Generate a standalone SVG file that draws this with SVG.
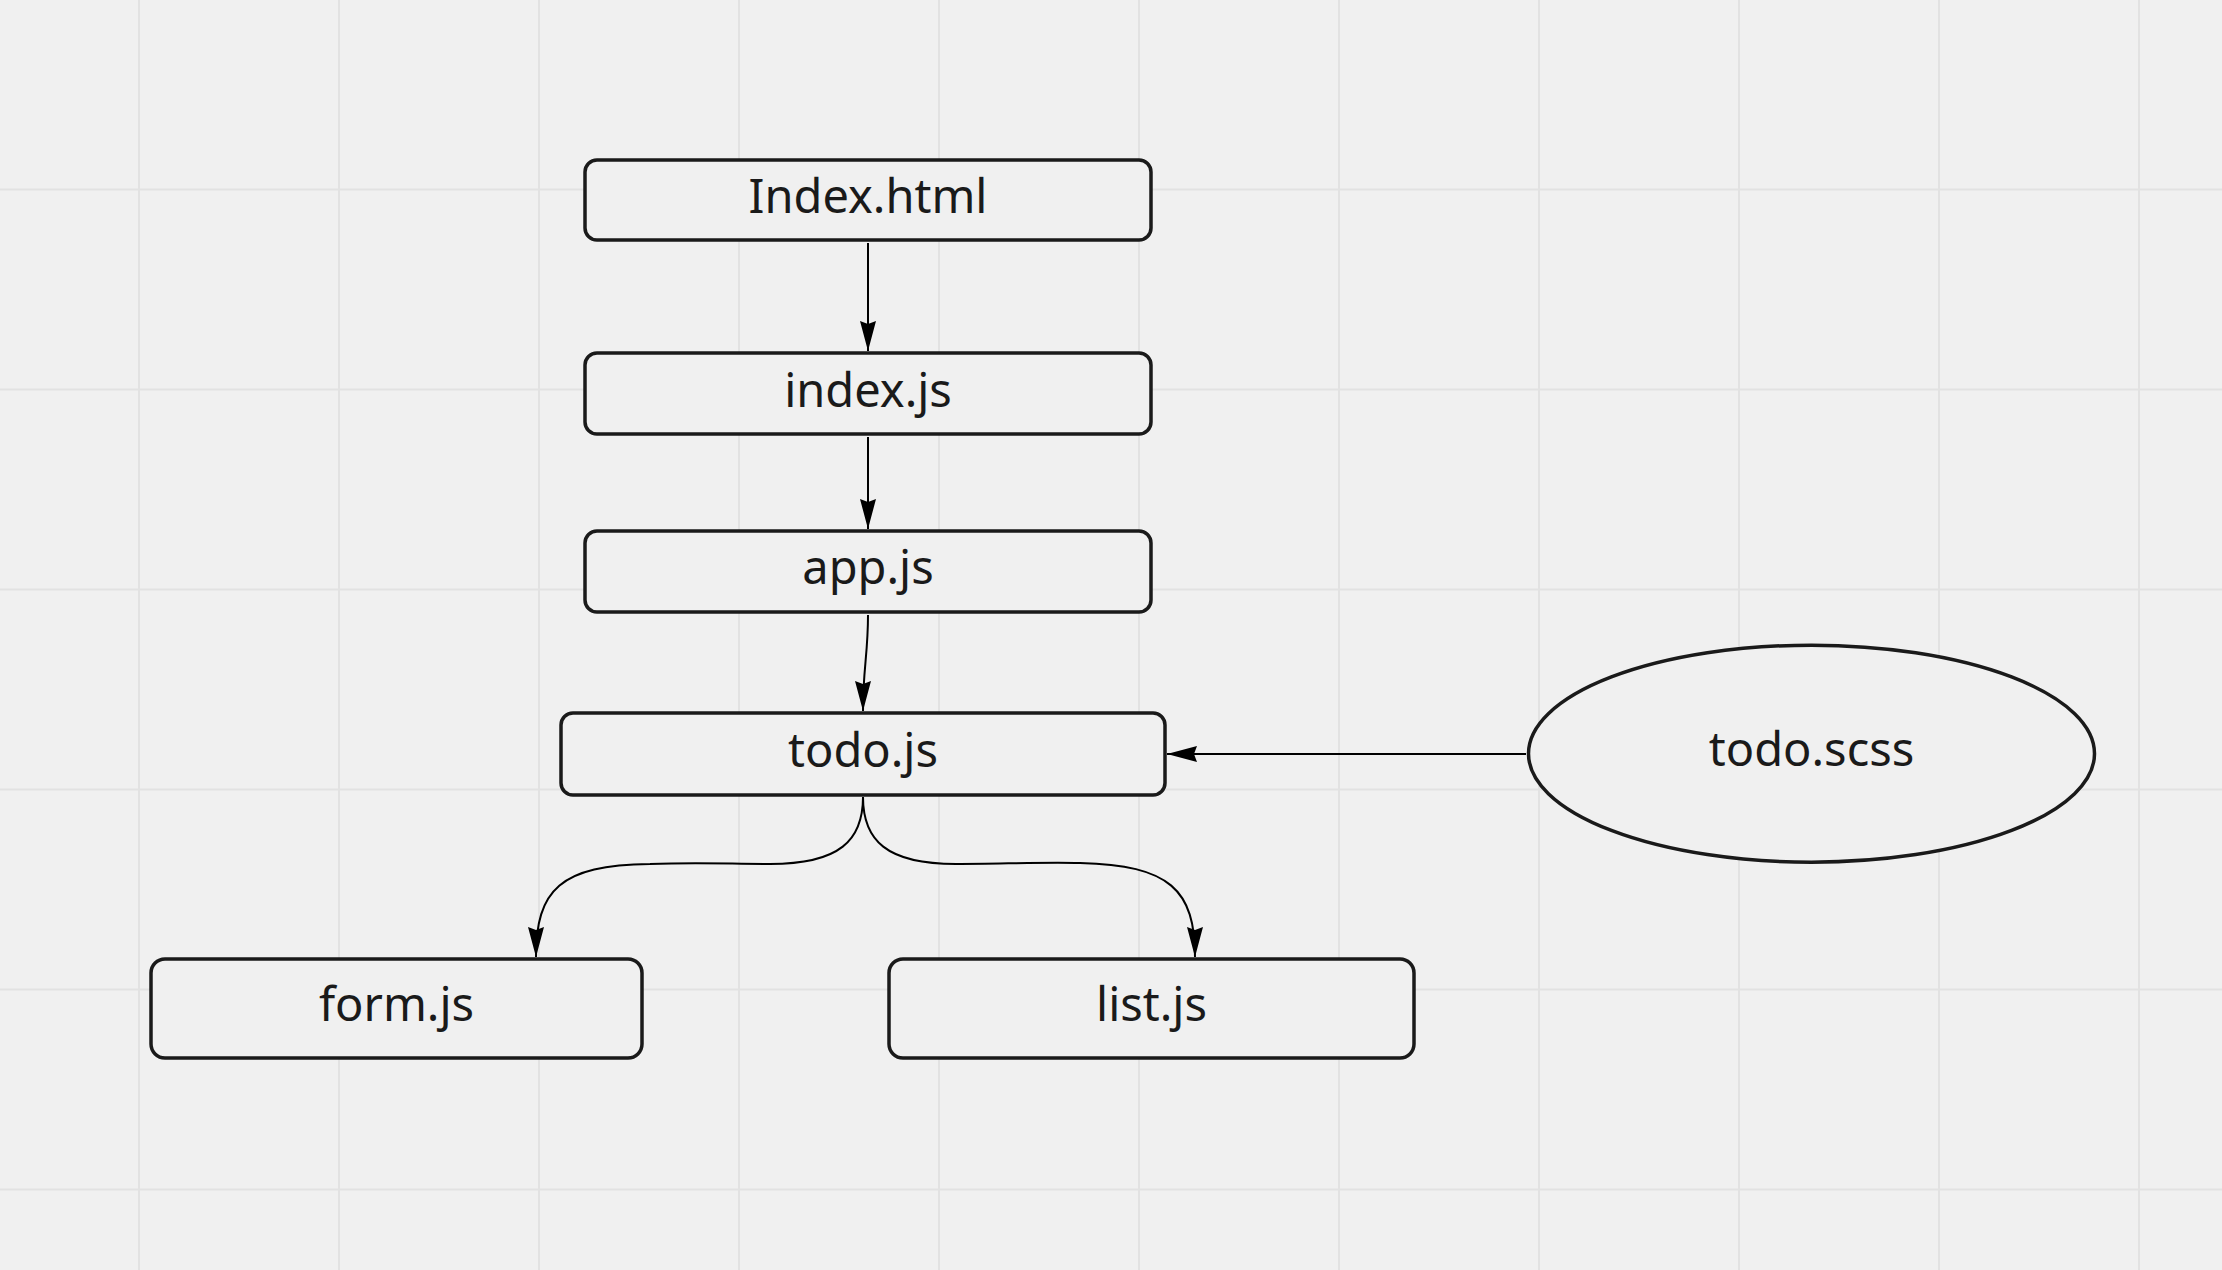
<svg xmlns="http://www.w3.org/2000/svg" width="2222" height="1270" viewBox="0 0 2222 1270">
<style>
.grid line{stroke:#e2e2e2;stroke-width:2}
.node rect,.node ellipse{fill:#f0f0f0;stroke:#1a1a1a;stroke-width:3.5}
.node text{font-family:"Noto Sans","Open Sans",sans-serif;font-size:47px;fill:#1a1a1a;text-anchor:middle}
.conn path{fill:none;stroke:#000;stroke-width:2}
</style>
<defs>
<marker id="arr" viewBox="0 0 30 16" markerWidth="30" markerHeight="16" refX="30" refY="8" orient="auto" markerUnits="userSpaceOnUse">
<path d="M0,0 L30,8 L0,16 L3,8 z" fill="#000"/>
</marker>
</defs>
<rect width="2222" height="1270" fill="#f0f0f0"/>
<g class="grid">
<line x1="139" y1="0" x2="139" y2="1270"/><line x1="339" y1="0" x2="339" y2="1270"/><line x1="539" y1="0" x2="539" y2="1270"/><line x1="739" y1="0" x2="739" y2="1270"/><line x1="939" y1="0" x2="939" y2="1270"/><line x1="1139" y1="0" x2="1139" y2="1270"/><line x1="1339" y1="0" x2="1339" y2="1270"/><line x1="1539" y1="0" x2="1539" y2="1270"/><line x1="1739" y1="0" x2="1739" y2="1270"/><line x1="1939" y1="0" x2="1939" y2="1270"/><line x1="2139" y1="0" x2="2139" y2="1270"/>
<line x1="0" y1="189.5" x2="2222" y2="189.5"/><line x1="0" y1="389.5" x2="2222" y2="389.5"/><line x1="0" y1="589.5" x2="2222" y2="589.5"/><line x1="0" y1="789.5" x2="2222" y2="789.5"/><line x1="0" y1="989.5" x2="2222" y2="989.5"/><line x1="0" y1="1189.5" x2="2222" y2="1189.5"/>
</g>
<g id="index-html" class="node"><rect x="585" y="160" width="566" height="80" rx="12"/><text x="868" y="212.7">Index.html</text></g>
<g id="index-js" class="node"><rect x="585" y="353" width="566" height="81" rx="12"/><text x="868" y="406.5">index.js</text></g>
<g id="app-js" class="node"><rect x="585" y="531" width="566" height="81" rx="12"/><text x="868" y="584.3">app.js</text></g>
<g id="todo-js" class="node"><rect x="561" y="713" width="604" height="82" rx="12"/><text x="863" y="766.7">todo.js</text></g>
<g id="form-js" class="node"><rect x="151" y="959" width="491" height="99" rx="14"/><text x="396.5" y="1020.7">form.js</text></g>
<g id="list-js" class="node"><rect x="889" y="959" width="525" height="99" rx="14"/><text x="1151.5" y="1020.7">list.js</text></g>
<g id="todo-scss" class="node"><ellipse cx="1811.5" cy="753.7" rx="283" ry="108.5"/><text x="1811.5" y="766">todo.scss</text></g>
<g class="conn">
<path d="M868,243 L868,351" marker-end="url(#arr)"/>
<path d="M868,437 L868,529" marker-end="url(#arr)"/>
<path d="M868,615 C868,655 863,668 863,711" marker-end="url(#arr)"/>
<path d="M1526,754 L1167,754" marker-end="url(#arr)"/>
<path d="M863,797 C863,840 840,864 770,864 C730,864 700,862 650,864 C560,865 536,890 536,957" marker-end="url(#arr)"/>
<path d="M863,797 C863,840 886,864 956,864 C1000,864 1040,862 1080,863 C1170,865 1195,890 1195,957" marker-end="url(#arr)"/>
</g>
</svg>
